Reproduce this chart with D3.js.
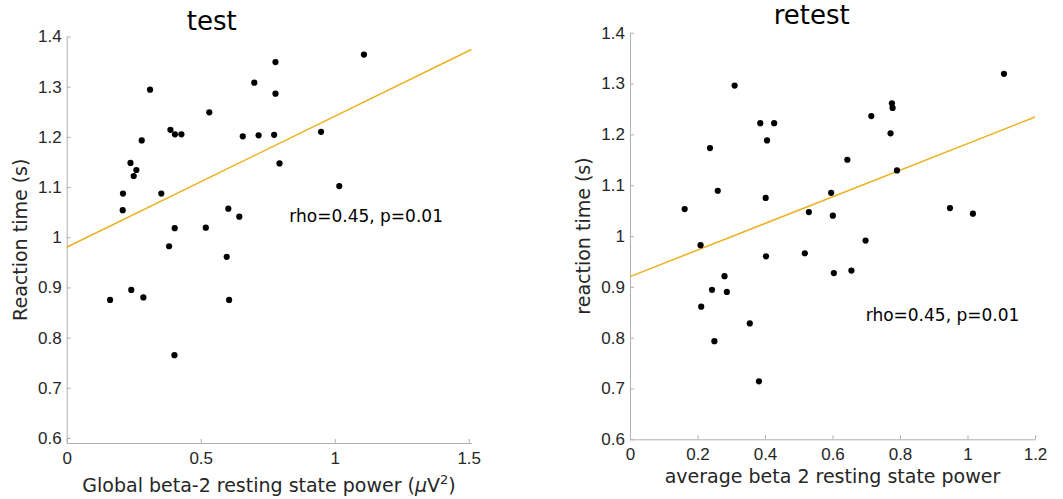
<!DOCTYPE html>
<html>
<head>
<meta charset="utf-8">
<script src="https://cdn.jsdelivr.net/npm/d3@7"></script>
<style>
  body { margin: 0; background: #fff; }
  svg { display: block; font-family: "DejaVu Sans", sans-serif; }
  .axis path, .axis line { stroke: #b0b0b0; }
  .axis text { fill: #262626; font-size: 17px; }
</style>
</head>
<body>
<svg id="chart" width="1063" height="499"></svg>
<script>
// test session: power (x) vs reaction time (y)
const testPower = [1.109, 0.779, 0.700, 0.779, 0.311, 0.532, 0.387, 0.404, 0.428, 0.280, 0.657,
  0.716, 0.774, 0.949, 0.794, 0.238, 0.260, 0.250, 0.210, 0.353, 0.209, 1.017, 0.603, 0.644,
  0.403, 0.519, 0.382, 0.597, 0.241, 0.162, 0.286, 0.606, 0.402];
const testRT = [1.364, 1.349, 1.308, 1.286, 1.294, 1.249, 1.214, 1.205, 1.205, 1.193, 1.201,
  1.203, 1.204, 1.210, 1.147, 1.148, 1.134, 1.122, 1.087, 1.087, 1.054, 1.102, 1.057, 1.041,
  1.018, 1.019, 0.982, 0.961, 0.895, 0.875, 0.880, 0.875, 0.765];

// retest session
const retestPower = [1.108, 0.310, 0.776, 0.778, 0.715, 0.386, 0.427, 0.772, 0.406, 0.237, 0.644,
  0.791, 0.260, 0.596, 0.402, 0.162, 0.948, 0.530, 0.601, 1.016, 0.209, 0.698, 0.518, 0.403,
  0.604, 0.656, 0.280, 0.243, 0.287, 0.211, 0.355, 0.250, 0.382];
const retestRT = [1.319, 1.296, 1.261, 1.252, 1.236, 1.222, 1.222, 1.202, 1.188, 1.173, 1.150,
  1.129, 1.089, 1.085, 1.075, 1.053, 1.055, 1.047, 1.040, 1.044, 0.982, 0.991, 0.966, 0.960,
  0.927, 0.932, 0.921, 0.894, 0.890, 0.861, 0.828, 0.793, 0.714];

// least-squares lines: [intercept, slope]
const testFit = [0.980, 0.261];
const retestFit = [0.920, 0.2617];

const testXTicks = [0, 0.5, 1, 1.5];
const retestXTicks = [0, 0.2, 0.4, 0.6, 0.8, 1, 1.2];
const yTicks = [0.6, 0.7, 0.8, 0.9, 1, 1.1, 1.2, 1.3, 1.4];
const statLabel = "rho=0.45, p=0.01";

const svg = d3.select("#chart");

function drawPanel(cfg) {
  const x = d3.scaleLinear().domain(cfg.xDomain).range([cfg.left, cfg.right]);
  const y = d3.scaleLinear().domain(cfg.yDomain).range([cfg.bottom, cfg.top]);
  const g = svg.append("g");

  // axes, ticks pointing inward like matlab
  g.append("g").attr("class", "axis")
      .attr("transform", `translate(0,${cfg.bottom})`)
      .call(d3.axisBottom(x).tickValues(cfg.xTicks).tickSize(-4).tickPadding(9)
        .tickFormat(d3.format("~g")).tickSizeOuter(0))
      .call(a => a.selectAll("text").attr("dy", "0.71em"));

  g.append("g").attr("class", "axis")
      .attr("transform", `translate(${cfg.left},0)`)
      .call(d3.axisLeft(y).tickValues(yTicks).tickSize(-4).tickPadding(5)
        .tickFormat(d3.format("~g")).tickSizeOuter(0));

  g.selectAll(".axis path").attr("stroke-width", 1);

  // fit line
  const x0 = cfg.xDomain[0], x1 = cfg.xDomain[1];
  g.append("line")
      .attr("x1", x(x0)).attr("y1", y(cfg.fit[0] + cfg.fit[1] * x0))
      .attr("x2", x(x1)).attr("y2", y(cfg.fit[0] + cfg.fit[1] * x1))
      .attr("stroke", "#EDB120")
      .attr("stroke-width", 1.5);

  // points
  g.selectAll("circle")
    .data(d3.zip(cfg.xs, cfg.ys))
    .enter()
    .append("circle")
      .attr("cx", d => x(d[0]))
      .attr("cy", d => y(d[1]))
      .attr("r", 3.1)
      .attr("fill", "#000");

  // title
  g.append("text")
      .attr("x", cfg.titleX).attr("y", cfg.titleY)
      .attr("text-anchor", "middle")
      .style("font-size", "26px").attr("fill", "#000")
      .text(cfg.title);

  // stat label
  g.append("text")
      .attr("x", cfg.statX).attr("y", cfg.statY)
      .style("font-size", "17px").attr("fill", "#000")
      .text(statLabel);

  // x label
  const xl = g.append("text")
      .attr("x", (cfg.left + cfg.right) / 2).attr("y", cfg.xLabelY)
      .attr("text-anchor", "middle")
      .style("font-size", "19px").attr("fill", "#262626");
  cfg.xLabel(xl);

  // y label
  g.append("text")
      .attr("transform", `translate(${cfg.yLabelX},${(cfg.top + cfg.bottom) / 2}) rotate(-90)`)
      .attr("text-anchor", "middle")
      .style("font-size", "19px").attr("fill", "#262626")
      .text(cfg.yLabel);
}

drawPanel({
  xs: testPower, ys: testRT, fit: testFit,
  xDomain: [0, 1.51], yDomain: [0.59, 1.4], xTicks: testXTicks,
  left: 66.7, right: 471.4, top: 36.5, bottom: 443,
  title: "test", titleX: 211.7, titleY: 30,
  statX: 289.3, statY: 222,
  xLabelY: 492,
  xLabel: t => {
    t.append("tspan").text("Global beta-2 resting state power (");
    t.append("tspan").style("font-style", "italic").text("\u03bc");
    t.append("tspan").text("V");
    t.append("tspan").attr("dy", -8).style("font-size", "13px").text("2");
    t.append("tspan").attr("dy", 8).text(")");
  },
  yLabel: "Reaction time (s)", yLabelX: 27
});

drawPanel({
  xs: retestPower, ys: retestRT, fit: retestFit,
  xDomain: [0, 1.2], yDomain: [0.6, 1.4], xTicks: retestXTicks,
  left: 630, right: 1035, top: 32.7, bottom: 439.3,
  title: "retest", titleX: 811.7, titleY: 23.5,
  statX: 865.7, statY: 321,
  xLabelY: 483,
  xLabel: t => t.text("average beta 2 resting state power"),
  yLabel: "reaction time (s)", yLabelX: 590
});
</script>
</body>
</html>
